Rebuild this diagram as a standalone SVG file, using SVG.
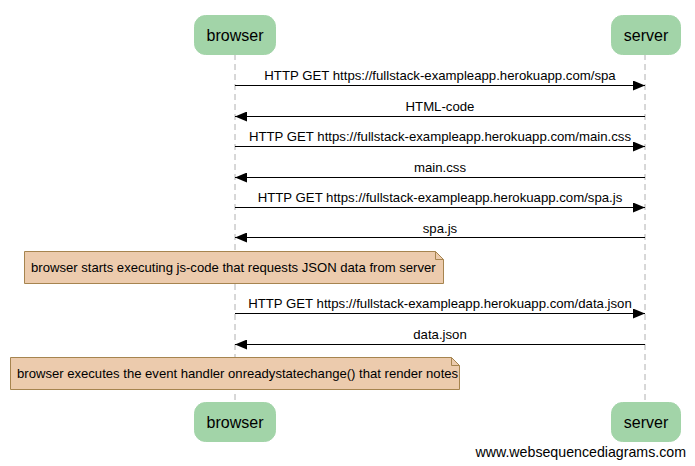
<svg xmlns="http://www.w3.org/2000/svg" width="695" height="466" viewBox="0 0 695 466">
<style>
.actor{fill:#a2d4a8;stroke:#a2d4a8;stroke-width:1}
.atext{font-family:"Liberation Sans",Arial,sans-serif;font-size:16px;fill:#000;text-anchor:middle}
.life{stroke:#b0b0b0;stroke-width:1;stroke-dasharray:6,4;fill:none}
.msg{stroke:#000;stroke-width:1;fill:none}
.mtext{font-family:"Liberation Sans",Arial,sans-serif;font-size:13.2px;fill:#000;text-anchor:middle}
.note{fill:#eccbad;stroke:#a6844f;stroke-width:1}
.ntext{font-family:"Liberation Sans",Arial,sans-serif;font-size:13.1px;fill:#000}
</style>
<defs>
<marker id="ah" markerWidth="12" markerHeight="10" refX="12" refY="5" orient="auto" markerUnits="userSpaceOnUse">
<path d="M0,0 L12,5 L0,10 Z" fill="#000"/>
</marker>
</defs>
<rect width="695" height="466" fill="#fff"/>
<g id="lifelines">
<line class="life" x1="235" y1="54" x2="235" y2="403"/>
<line class="life" x1="645" y1="54" x2="645" y2="403"/>
</g>
<g id="browser-top"><rect class="actor" x="194.5" y="15.5" width="81" height="39" rx="11"/><text class="atext" x="235" y="41">browser</text></g>
<g id="server-top"><rect class="actor" x="611.5" y="15.5" width="69" height="39" rx="11"/><text class="atext" x="646" y="41">server</text></g>
<g id="browser-bottom"><rect class="actor" x="194.5" y="402.5" width="81" height="39" rx="11"/><text class="atext" x="235" y="428">browser</text></g>
<g id="server-bottom"><rect class="actor" x="611.5" y="402.5" width="69" height="39" rx="11"/><text class="atext" x="646" y="428">server</text></g>
<g id="connectors">
<line class="msg" x1="235" y1="85.5" x2="645" y2="85.5" marker-end="url(#ah)"/>
<text class="mtext" x="440" y="80">HTTP GET https://fullstack-exampleapp.herokuapp.com/spa</text>
<line class="msg" x1="645" y1="116.5" x2="235" y2="116.5" marker-end="url(#ah)"/>
<text class="mtext" x="440" y="111">HTML-code</text>
<line class="msg" x1="235" y1="146.5" x2="645" y2="146.5" marker-end="url(#ah)"/>
<text class="mtext" x="440" y="141">HTTP GET https://fullstack-exampleapp.herokuapp.com/main.css</text>
<line class="msg" x1="645" y1="177.5" x2="235" y2="177.5" marker-end="url(#ah)"/>
<text class="mtext" x="440" y="172">main.css</text>
<line class="msg" x1="235" y1="207.5" x2="645" y2="207.5" marker-end="url(#ah)"/>
<text class="mtext" x="440" y="202">HTTP GET https://fullstack-exampleapp.herokuapp.com/spa.js</text>
<line class="msg" x1="645" y1="237.5" x2="235" y2="237.5" marker-end="url(#ah)"/>
<text class="mtext" x="440" y="233">spa.js</text>
<line class="msg" x1="235" y1="313.5" x2="645" y2="313.5" marker-end="url(#ah)"/>
<text class="mtext" x="440" y="308">HTTP GET https://fullstack-exampleapp.herokuapp.com/data.json</text>
<line class="msg" x1="645" y1="344.5" x2="235" y2="344.5" marker-end="url(#ah)"/>
<text class="mtext" x="440" y="339">data.json</text>
</g>
<g id="note1">
<path class="note" d="M24.5,251.5 H435.5 L443.5,259.5 V283.5 H24.5 Z"/>
<path d="M435.5,251.5 V259.5 H443.5" fill="none" stroke="#a6844f"/>
<text class="ntext" x="31" y="272">browser starts executing js-code that requests JSON data from server</text>
</g>
<g id="note2">
<path class="note" d="M10.5,357.5 H451.5 L459.5,365.5 V389.5 H10.5 Z"/>
<path d="M451.5,357.5 V365.5 H459.5" fill="none" stroke="#a6844f"/>
<text class="ntext" x="17" y="378">browser executes the event handler onreadystatechange() that render notes</text>
</g>
<text x="686" y="457" font-family="'Liberation Sans',Arial,sans-serif" font-size="14.2" text-anchor="end" fill="#000">www.websequencediagrams.com</text>
</svg>
